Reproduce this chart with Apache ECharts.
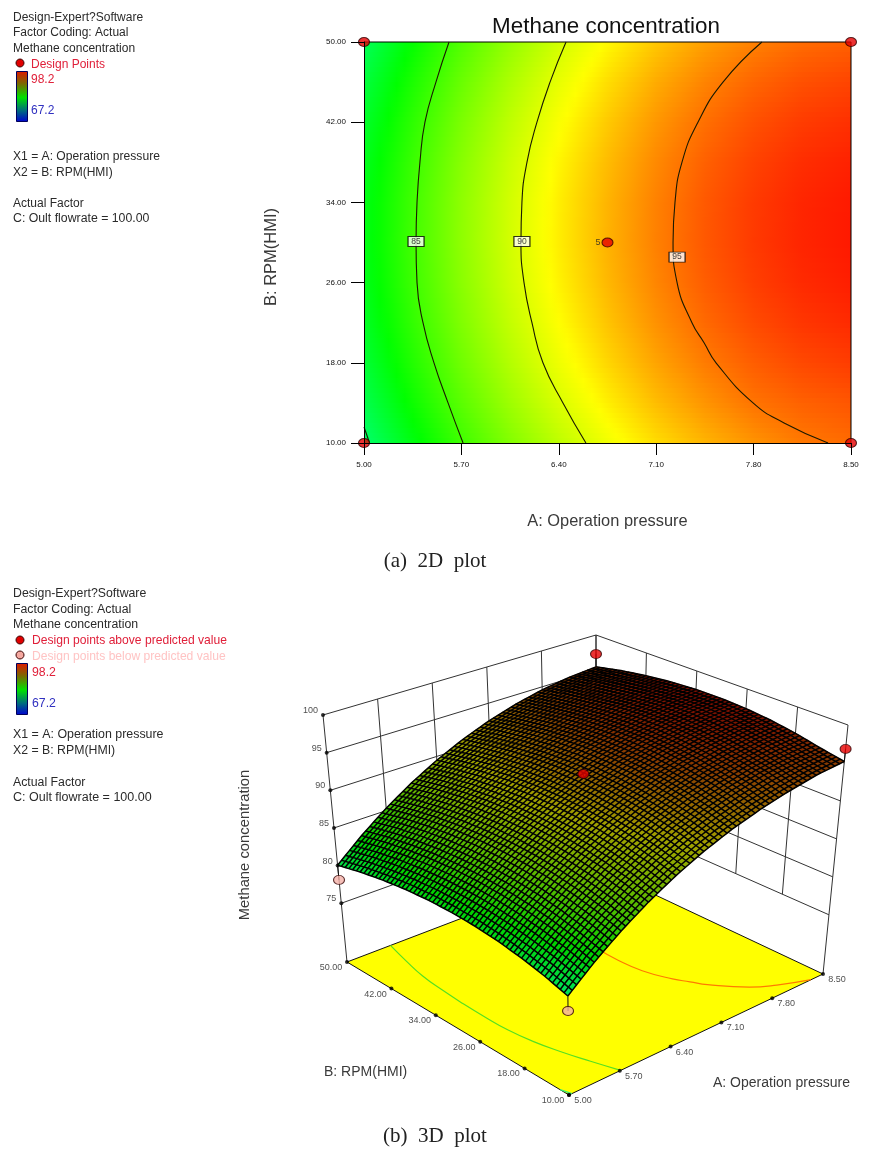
<!DOCTYPE html>
<html><head><meta charset="utf-8">
<style>html,body{margin:0;padding:0;background:#fff}#c{width:872px;height:1154px}</style>
<script src="https://cdn.jsdelivr.net/npm/echarts@6/dist/echarts.min.js"></script>
</head><body><div id="c"></div>
<script>
// ---- tick labels
const pressureTicks=[5.00,5.70,6.40,7.10,7.80,8.50];
const rpmTicks=[10,18,26,34,42,50];
const methaneTicks=[75,80,85,90,95,100];
// ---- response surface (rows: RPM, columns: pressure)
const pressureLevels=[5.00,5.35,5.70,6.05,6.40,6.75,7.10,7.45,7.80,8.15,8.50];
const rpmLevels=[50,46,42,38,34,30,26,22,18,14,10];
const methaneRpm50=[80.05,82.82,85.32,87.54,89.49,91.17,92.58,93.72,94.58,95.17,95.50];
const methaneRpm46=[80.82,83.59,86.09,88.31,90.26,91.94,93.35,94.49,95.35,95.94,96.27];
const methaneRpm42=[81.40,84.17,86.67,88.89,90.84,92.52,93.93,95.07,95.93,96.52,96.85];
const methaneRpm38=[81.80,84.57,87.07,89.29,91.24,92.92,94.33,95.47,96.33,96.92,97.25];
const methaneRpm34=[82.02,84.79,87.29,89.51,91.46,93.14,94.55,95.69,96.55,97.14,97.47];
const methaneRpm30=[82.05,84.82,87.32,89.54,91.49,93.17,94.58,95.72,96.58,97.17,97.50];
const methaneRpm26=[81.90,84.67,87.17,89.39,91.34,93.02,94.43,95.57,96.43,97.02,97.35];
const methaneRpm22=[81.56,84.33,86.83,89.05,91.00,92.68,94.09,95.23,96.09,96.68,97.01];
const methaneRpm18=[81.04,83.81,86.31,88.53,90.48,92.16,93.57,94.71,95.57,96.16,96.49];
const methaneRpm14=[80.34,83.11,85.61,87.83,89.78,91.46,92.87,94.01,94.95,95.46,95.79];
const methaneRpm10=[79.45,82.22,84.72,86.94,88.89,90.57,91.98,93.12,94.05,94.80,95.20];
const methaneGrid=[methaneRpm50,methaneRpm46,methaneRpm42,methaneRpm38,methaneRpm34,methaneRpm30,methaneRpm26,methaneRpm22,methaneRpm18,methaneRpm14,methaneRpm10];
// ---- contour lines [pressure, rpm]
const contour80=[[5.00,11.6],[5.04,10]];
const contour85=[[5.611,50],[5.517,46],[5.438,42],[5.402,38],[5.381,34],[5.374,30],[5.381,26],[5.424,22],[5.503,18],[5.604,14],[5.712,10]];
const contour90=[[6.452,50],[6.337,46],[6.243,42],[6.171,38],[6.135,34],[6.128,30],[6.150,26],[6.207,22],[6.286,18],[6.430,14],[6.595,10]];
const contour95=[[7.860,50],[7.580,46],[7.400,42],[7.285,38],[7.235,34],[7.221,30],[7.250,26],[7.357,22],[7.444,20],[7.530,18],[7.796,14],[8.019,12],[8.335,10]];
const contourTags=[[5.374,30.1,'85'],[6.135,30.1,'90'],[7.25,28.55,'95']];
// ---- design points
const designPoints2D=[[5,50],[5,10],[8.5,50],[8.5,10]];
const centerPoint2D=[[6.75,30]];
const pointsAbove=[[8.5,50,97.3],[8.5,10,96.85],[6.75,30,93.7]];
const pointsBelow=[[5,50,78.1],[5,10,77.6]];

// ---- colour scale
const scaleStops=[67.2,74.95,82.7,91.0,98.2];
const scaleRGB=[[0,0,255],[0,255,255],[0,255,0],[255,255,0],[255,0,0]];
function colorOf(v,shade){
  let k=0; while(k<3&&v>scaleStops[k+1])k++;
  const f=Math.max(0,Math.min(1,(v-scaleStops[k])/(scaleStops[k+1]-scaleStops[k]))),c0=scaleRGB[k],c1=scaleRGB[k+1],s=shade||1;
  return 'rgb('+Math.round((c0[0]+(c1[0]-c0[0])*f)*s)+','+Math.round((c0[1]+(c1[1]-c0[1])*f)*s)+','+Math.round((c0[2]+(c1[2]-c0[2])*f)*s)+')';
}
function meshShade(v){return Math.max(.45,.9-.4*(v-79)/18);}
// ---- 3D box → page
const zFloor=67.2, zTop=100, zWallLow=75;
const F00=[347,962],F10=[596,867],F01=[569,1095],F11=[823,974];
const T00=[323,715],T10=[596,635],T01=[566,830],T11=[848,725];
function project(A,B,Z){
  const a=(A-5)/3.5,b=(50-B)/40,z=(Z-zFloor)/(zTop-zFloor),o=[];
  for(let d=0;d<2;d++){
    const fl=(1-a)*(1-b)*F00[d]+a*(1-b)*F10[d]+(1-a)*b*F01[d]+a*b*F11[d];
    const tp=(1-a)*(1-b)*T00[d]+a*(1-b)*T10[d]+(1-a)*b*T01[d]+a*b*T11[d];
    o.push(fl+(tp-fl)*z);
  }
  return o;
}
const SUB=6; // paint subdivisions of one read patch (surface mesh)
const MESH_W=1.5;
function surfaceAt(i,j,u,w){
  const g=methaneGrid;
  return (1-u)*(1-w)*g[j][i]+u*(1-w)*g[j][i+1]+(1-u)*w*g[j+1][i]+u*w*g[j+1][i+1];
}
function paramA(i,u){return pressureLevels[i]+(pressureLevels[i+1]-pressureLevels[i])*u;}
function paramB(j,w){return rpmLevels[j]+(rpmLevels[j+1]-rpmLevels[j])*w;}

// patches
const patches2D=[],patches3D=[];
for(let j=0;j<rpmLevels.length-1;j++)for(let i=pressureLevels.length-2;i>=0;i--){patches2D.push([i,j]);patches3D.push([i,j]);}
// mesh lines: [direction, patch index, sub index]
const meshLines=[];
for(let i=0;i<pressureLevels.length-1;i++)for(let s=0;s<SUB;s++)meshLines.push([0,i,s/SUB]);
meshLines.push([0,pressureLevels.length-2,1]);
for(let j=0;j<rpmLevels.length-1;j++)for(let s=0;s<SUB;s++)meshLines.push([1,j,s/SUB]);
meshLines.push([1,rpmLevels.length-2,1]);

function renderHeat(params,api){
  const p=patches2D[params.dataIndex],i=p[0],j=p[1],ch=[],n=8;
  for(let s=0;s<n;s++){
    const w0=s/n,w1=(s+1)/n,wm=(w0+w1)/2;
    const c0=api.coord([pressureLevels[i],paramB(j,w0)]),c1=api.coord([pressureLevels[i+1],paramB(j,w1)]);
    const stops=[];for(let k=0;k<=6;k++){const u=k/6;stops.push({offset:u,color:colorOf(surfaceAt(i,j,u,wm))});}
    const x=Math.round(c0[0]),y=Math.round(c0[1]);
    ch.push({type:'rect',shape:{x:x,y:y,width:Math.round(c1[0])-x,height:Math.round(c1[1])-y},
      style:{fill:{type:'linear',x:0,y:0,x2:1,y2:0,colorStops:stops}},silent:true});
  }
  return {type:'group',children:ch};
}
function renderSurface(params,api){
  const p=patches3D[params.dataIndex],i=p[0],j=p[1],ch=[];
  for(let sw=0;sw<SUB;sw++)for(let su=SUB-1;su>=0;su--){
    const u0=su/SUB,u1=(su+1)/SUB,w0=sw/SUB,w1=(sw+1)/SUB;
    const corner=(u,w)=>api.coord(project(paramA(i,u),paramB(j,w),surfaceAt(i,j,u,w)));
    const vm=surfaceAt(i,j,(u0+u1)/2,(w0+w1)/2);
    const col=colorOf(vm,meshShade(vm));
    ch.push({type:'polygon',shape:{points:[corner(u0,w0),corner(u1,w0),corner(u1,w1),corner(u0,w1)]},
      style:{fill:col,stroke:col,lineWidth:.5},silent:true});
  }
  return {type:'group',children:ch};
}
function renderMesh(params,api){
  const m=meshLines[params.dataIndex],pts=[];
  if(m[0]===0){ // pressure fixed, rpm runs
    for(let j=0;j<rpmLevels.length-1;j++)for(let s=0;s<=SUB;s++){
      const w=s/SUB;pts.push(api.coord(project(paramA(m[1],m[2]),paramB(j,w),surfaceAt(m[1],j,m[2],w))));
    }
  }else{
    for(let i=0;i<pressureLevels.length-1;i++)for(let s=0;s<=SUB;s++){
      const u=s/SUB;pts.push(api.coord(project(paramA(i,u),paramB(m[1],m[2]),surfaceAt(i,m[1],u,m[2]))));
    }
  }
  return {type:'polyline',shape:{points:pts},style:{stroke:'#000',lineWidth:MESH_W,fill:null},silent:true};
}
// wall grid segments
const wallSegments=[];
pressureTicks.forEach(A=>wallSegments.push([A,50,zWallLow,A,50,zTop]));
rpmTicks.forEach(B=>wallSegments.push([8.5,B,zWallLow,8.5,B,zTop]));
wallSegments.push([5,50,zFloor,5,50,zWallLow]);
wallSegments.push([8.5,10,zFloor,8.5,10,zWallLow]);
methaneTicks.forEach(Z=>{wallSegments.push([5,50,Z,8.5,50,Z]);wallSegments.push([8.5,50,Z,8.5,10,Z]);});
const stemSegments=[
  [8.5,50,97.3,8.5,50,methaneRpm50[10]],[8.5,10,96.85,8.5,10,methaneRpm10[10]],
  [6.75,30,93.7,6.75,30,methaneRpm30[5]],[5,50,78.1,5,50,methaneRpm50[0]],[5,10,77.6,5,10,methaneRpm10[0]]];
function segmentRenderer(list,color,lw){
  return function(params,api){
    const s=list[params.dataIndex],a=api.coord(project(s[0],s[1],s[2])),b=api.coord(project(s[3],s[4],s[5]));
    return {type:'line',shape:{x1:a[0],y1:a[1],x2:b[0],y2:b[1]},style:{stroke:color,lineWidth:lw},silent:true};
  };
}
const ellipse='path://M-1 0A1 1 0 1 1 1 0A1 1 0 1 1 -1 0Z';
const SANS='"Liberation Sans",Arial,sans-serif';
function txt(text,x,y,size,fill,extra){
  return Object.assign({type:'text',x:x,y:y+1,z:50,silent:true,style:{text:text,fill:fill||'#2a2a2a',font:size+'px '+SANS,textVerticalAlign:'middle',textAlign:'left'}},extra||{});
}
function rotTxt(text,x,y,size){
  return {type:'text',x:x,y:y,rotation:Math.PI/2,z:50,silent:true,style:{text:text,fill:'#3a3a3a',font:size+'px '+SANS,textVerticalAlign:'middle',textAlign:'center'}};
}
function bar(x,y,w,h){
  return {type:'rect',z:50,silent:true,shape:{x:x,y:y,width:w,height:h},style:{stroke:'#00005a',lineWidth:1,
    fill:{type:'linear',x:0,y:0,x2:0,y2:1,colorStops:[{offset:0,color:'#e01800'},{offset:.25,color:'#7a6a00'},{offset:.52,color:'#00e000'},{offset:.78,color:'#006a80'},{offset:1,color:'#0000d0'}]}}};
}
function dot(cx,cy,fill){
  return {type:'ellipse',z:50,silent:true,shape:{cx:cx,cy:cy,rx:4,ry:4},style:{fill:fill,stroke:'#3a0000',lineWidth:1}};
}
const RED='#e0203a',BLUE='#3030c0',PINK='#ffc4c4';
const graphics=[
  {type:'text',x:606,y:27,z:50,silent:true,style:{text:'Methane concentration',fill:'#111',font:'22.4px '+SANS,textAlign:'center',textVerticalAlign:'middle'}},
  txt('Design-Expert?Software',13,17,12),txt('Factor Coding: Actual',13,32,12),txt('Methane concentration',13,48,12),
  dot(20,63,'#e00000'),txt('Design Points',31,64,12,RED),bar(16.5,71.5,11,50),
  txt('98.2',31,79,12,RED),txt('67.2',31,110,12,BLUE),
  txt('X1 = A: Operation pressure',13,156,12.1),txt('X2 = B: RPM(HMI)',13,172,12),
  txt('Actual Factor',13,203,12),txt('C: Oult flowrate = 100.00',13,218,12.3),
  rotTxt('B: RPM(HMI)',271,257,16.5),
  {type:'text',x:435,y:561,z:50,silent:true,style:{text:'(a)  2D  plot',fill:'#222',font:'21px "Liberation Serif",serif',textAlign:'center',textVerticalAlign:'middle'}},
  txt('Design-Expert?Software',13,593,12.3),txt('Factor Coding: Actual',13,609,12.3),txt('Methane concentration',13,624,12.3),
  dot(20,640,'#e00000'),txt('Design points above predicted value',32,640,12.1,RED),
  dot(20,655,'#f4a8a0'),txt('Design points below predicted value',32,656,12.1,PINK),
  bar(16.5,663.5,11,51),txt('98.2',32,672,12.3,RED),txt('67.2',32,703,12.3,BLUE),
  txt('X1 = A: Operation pressure',13,734,12.4),txt('X2 = B: RPM(HMI)',13,750,12.3),
  txt('Actual Factor',13,782,12.3),txt('C: Oult flowrate = 100.00',13,797,12.5),
  rotTxt('Methane concentration',245,845,14.8),
  txt('B: RPM(HMI)',324,1071,14,'#3a3a3a'),txt('A: Operation pressure',713,1082,14,'#3a3a3a'),
  {type:'text',x:435,y:1136,z:50,silent:true,style:{text:'(b)  3D  plot',fill:'#222',font:'21px "Liberation Serif",serif',textAlign:'center',textVerticalAlign:'middle'}}
];
function tickScatter(data,offset,align){
  return {type:'scatter',xAxisIndex:1,yAxisIndex:1,z:7,clip:false,silent:true,symbol:'circle',symbolSize:4,
    itemStyle:{color:'#000'},data:data,
    label:{show:true,position:'inside',formatter:'{b}',offset:offset,align:align,verticalAlign:'middle',color:'#222',fontFamily:SANS,fontSize:9}};
}
const zTickData=methaneTicks.map(Z=>({name:String(Z),value:project(5,50,Z)}));
const bTickData=rpmTicks.map(B=>({name:B.toFixed(2),value:project(5,B,zFloor)}));
const aTickData=pressureTicks.map(A=>({name:A.toFixed(2),value:project(A,10,zFloor)}));

function contourLine(data){
  return {type:'line',xAxisIndex:0,yAxisIndex:0,z:4,data:data,smooth:0.5,symbol:'none',clip:false,silent:true,
    lineStyle:{color:'#1a1a00',width:1.1}};
}
function floorLine(data,color){
  return {type:'line',xAxisIndex:1,yAxisIndex:1,z:4,data:data.map(p=>project(p[0],p[1],zFloor)),smooth:0.5,symbol:'none',clip:false,silent:true,
    lineStyle:{color:color,width:1.2}};
}
const chart=echarts.init(document.getElementById('c'),null,{renderer:'canvas'});
chart.setOption({
  animation:false,backgroundColor:'#fff',
  graphic:{elements:graphics},
  grid:[{left:364,top:42,width:487,height:401,containLabel:false},{left:0,top:0,width:872,height:1154}],
  xAxis:[
    {type:'value',gridIndex:0,min:5,max:8.5,z:10,splitLine:{show:false},
     axisLine:{show:true,onZero:false,lineStyle:{color:'#000',width:1}},
     axisTick:{show:true,length:12,customValues:pressureTicks,lineStyle:{color:'#000'}},
     axisLabel:{customValues:pressureTicks,formatter:v=>v.toFixed(2),fontSize:8,color:'#111',fontFamily:SANS,margin:18},
     name:'A: Operation pressure',nameLocation:'middle',nameGap:70,nameTextStyle:{fontFamily:SANS,fontSize:16.4,color:'#3a3a3a'}},
    {type:'value',gridIndex:1,min:0,max:872,show:false}
  ],
  yAxis:[
    {type:'value',gridIndex:0,min:10,max:50,z:10,splitLine:{show:false},
     axisLine:{show:true,onZero:false,lineStyle:{color:'#000',width:1}},
     axisTick:{show:true,length:13,customValues:rpmTicks,lineStyle:{color:'#000'}},
     axisLabel:{customValues:rpmTicks,formatter:v=>v.toFixed(2),fontSize:8,color:'#111',fontFamily:SANS,margin:18}},
    {type:'value',gridIndex:1,min:0,max:1154,inverse:true,show:false}
  ],
  series:[
    {type:'custom',xAxisIndex:0,yAxisIndex:0,z:2,silent:true,progressive:0,data:patches2D,renderItem:renderHeat,clip:false},
    {type:'line',xAxisIndex:0,yAxisIndex:0,z:3,silent:true,symbol:'none',clip:false,data:[[5,50],[8.5,50],[8.5,10]],lineStyle:{color:'#000',width:1}},
    contourLine(contour80),contourLine(contour85),contourLine(contour90),contourLine(contour95),
    {type:'scatter',xAxisIndex:0,yAxisIndex:0,z:6,clip:false,silent:true,symbol:'rect',symbolSize:[16,10],
     itemStyle:{color:'#fff',borderColor:'#000',borderWidth:1},
     data:contourTags.map(t=>({value:[t[0],t[1]],name:t[2]})),
     label:{show:true,position:'inside',formatter:'{b}',fontSize:8.5,color:'#111',fontFamily:SANS}},
    {type:'scatter',xAxisIndex:0,yAxisIndex:0,z:7,clip:false,silent:true,symbol:ellipse,symbolSize:[11,9],
     itemStyle:{color:'#e60000',borderColor:'#300',borderWidth:1},data:designPoints2D},
    {type:'scatter',xAxisIndex:0,yAxisIndex:0,z:7,clip:false,silent:true,symbol:ellipse,symbolSize:[11,9],
     itemStyle:{color:'#e60000',borderColor:'#300',borderWidth:1},data:centerPoint2D,
     label:{show:true,position:'left',distance:1,formatter:'5',fontSize:9,color:'#222',fontFamily:SANS}},
    // 3D
    {type:'custom',xAxisIndex:1,yAxisIndex:1,z:2,silent:true,progressive:0,data:[[0,0]],clip:false,
     renderItem:(params,api)=>({type:'polygon',shape:{points:[project(5,50,zFloor),project(8.5,50,zFloor),project(8.5,10,zFloor),project(5,10,zFloor)].map(p=>api.coord(p))},style:{fill:'#ffff00',stroke:'#111',lineWidth:1},silent:true})},
    {type:'custom',xAxisIndex:1,yAxisIndex:1,z:3,silent:true,progressive:0,data:wallSegments.map((s,i)=>[i,0]),renderItem:segmentRenderer(wallSegments,'#333',1),clip:false},
    floorLine(contour85,'#55e022'),floorLine(contour80,'#33ee77'),floorLine(contour95,'#ff7a00'),
    {type:'custom',xAxisIndex:1,yAxisIndex:1,z:5,silent:true,progressive:0,data:patches3D,renderItem:renderSurface,clip:false},
    {type:'custom',xAxisIndex:1,yAxisIndex:1,z:5,silent:true,progressive:0,data:meshLines.map((m,i)=>[i,0]),renderItem:renderMesh,clip:false},
    {type:'custom',xAxisIndex:1,yAxisIndex:1,z:6,silent:true,progressive:0,data:stemSegments.map((s,i)=>[i,0]),renderItem:segmentRenderer(stemSegments,'#111',1),clip:false},
    {type:'scatter',xAxisIndex:1,yAxisIndex:1,z:8,clip:false,silent:true,symbol:ellipse,symbolSize:[11,9],
     itemStyle:{color:'#e60000',borderColor:'#300',borderWidth:1},data:pointsAbove.map(p=>project(p[0],p[1],p[2]))},
    {type:'scatter',xAxisIndex:1,yAxisIndex:1,z:8,clip:false,silent:true,symbol:ellipse,symbolSize:[11,9],
     itemStyle:{color:'#f4b0a8',borderColor:'#300',borderWidth:1},data:pointsBelow.map(p=>project(p[0],p[1],p[2]))},
    tickScatter(zTickData,[-5,-4.5],'right'),
    tickScatter(bTickData,[-16,5.5],'center'),
    tickScatter(aTickData,[14,5.5],'center')
  ]
});
</script></body></html>
